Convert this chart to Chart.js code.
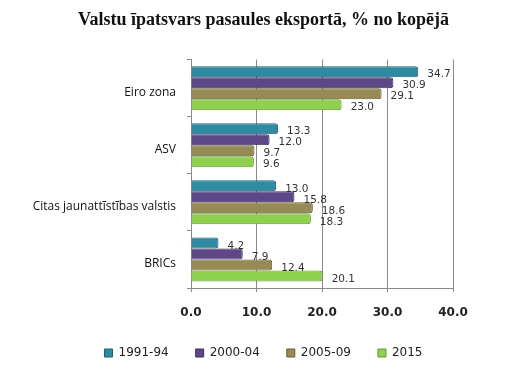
<!DOCTYPE html>
<html>
<head>
<meta charset="utf-8">
<script src="https://cdn.jsdelivr.net/npm/chart.js@4"></script>
<style>
  html, body { margin: 0; padding: 0; background: #fff; }
  #wrap { width: 527px; height: 376px; }
</style>
</head>
<body>
<div id="wrap"><canvas id="grafiks" width="527" height="376"></canvas></div>
<script>
// dati no attēla
const kategorijas = ['Eiro zona', 'ASV', 'Citas jaunattīstības valstis', 'BRICs'];
const periodi = ['1991-94', '2000-04', '2005-09', '2015'];
const v1991 = [34.7, 13.3, 13.0, 4.2];
const v2000 = [30.9, 12.0, 15.8, 7.9];
const v2005 = [29.1, 9.7, 18.6, 12.4];
const v2015 = [23.0, 9.6, 18.3, 20.1];
const asuTicks = [0, 10, 20, 30, 40];

const krasas = ['#2f8aa3', '#5e4787', '#978b55', '#8fd14f'];
const malas = ['#1f5f70', '#3d2d5c', '#655c37', '#5f9a2f'];

// vērtību uzraksti pie stabiņiem
const vertibuUzraksti = {
    id: 'vertibuUzraksti',
    afterDatasetsDraw(chart) {
        const ctx = chart.ctx;
        ctx.save();
        ctx.font = '10.5px "DejaVu Sans"';
        ctx.fillStyle = '#333';
        ctx.textBaseline = 'middle';
        chart.data.datasets.forEach((ds, i) => {
            chart.getDatasetMeta(i).data.forEach((bar, j) => {
                ctx.fillText(ds.data[j].toFixed(1), bar.x + 9, bar.y + 3);
            });
        });
        ctx.restore();
    }
};

const datuKopas = [v1991, v2000, v2005, v2015].map((vals, i) => ({
    label: periodi[i],
    data: vals,
    backgroundColor: krasas[i],
    borderColor: malas[i],
    borderWidth: 1,
    borderRadius: 3,
    borderSkipped: 'left',
    categoryPercentage: 0.77,
    barPercentage: 1.0
}));

new Chart(document.getElementById('grafiks'), {
    type: 'bar',
    data: { labels: kategorijas, datasets: datuKopas },
    options: {
        indexAxis: 'y',
        responsive: false,
        animation: false,
        layout: { padding: { left: 4, right: 4, top: 0, bottom: 7 } },
        plugins: {
            title: {
                display: true,
                text: 'Valstu īpatsvars pasaules eksportā, % no kopējā',
                font: { family: '"Liberation Serif"', size: 18, weight: 'bold' },
                color: '#111',
                padding: { top: 10, bottom: 28 }
            },
            legend: {
                position: 'bottom',
                labels: {
                    boxWidth: 8,
                    boxHeight: 8,
                    padding: 27,
                    color: '#222',
                    font: { family: '"DejaVu Sans"', size: 12 }
                }
            },
            tooltip: { enabled: false }
        },
        scales: {
            x: {
                min: 0,
                max: 40,
                afterBuildTicks(scale) { scale.ticks = asuTicks.map(v => ({ value: v })); },
                ticks: {
                    callback: v => Number(v).toFixed(1),
                    color: '#222',
                    font: { family: '"DejaVu Sans"', size: 12, weight: 'bold' },
                    padding: 14
                },
                grid: { color: '#8a8a8a', drawTicks: true, tickLength: 4 },
                border: { color: '#8a8a8a' },
                afterFit(scale) { scale.height = 32; }
            },
            y: {
                ticks: {
                    color: '#111',
                    font: { family: '"Open Sans"', size: 12 },
                    padding: 11,
                    labelOffset: 4
                },
                grid: { drawOnChartArea: false, drawTicks: true, tickLength: 4, color: '#8a8a8a' },
                border: { color: '#8a8a8a' },
                afterFit(scale) { scale.width = 187; }
            },
            tuksa: {
                type: 'linear',
                position: 'right',
                grid: { display: false },
                border: { display: false },
                ticks: { display: false },
                afterFit(scale) { scale.width = 70; }
            }
        }
    },
    plugins: [vertibuUzraksti]
});
</script>
</body>
</html>
